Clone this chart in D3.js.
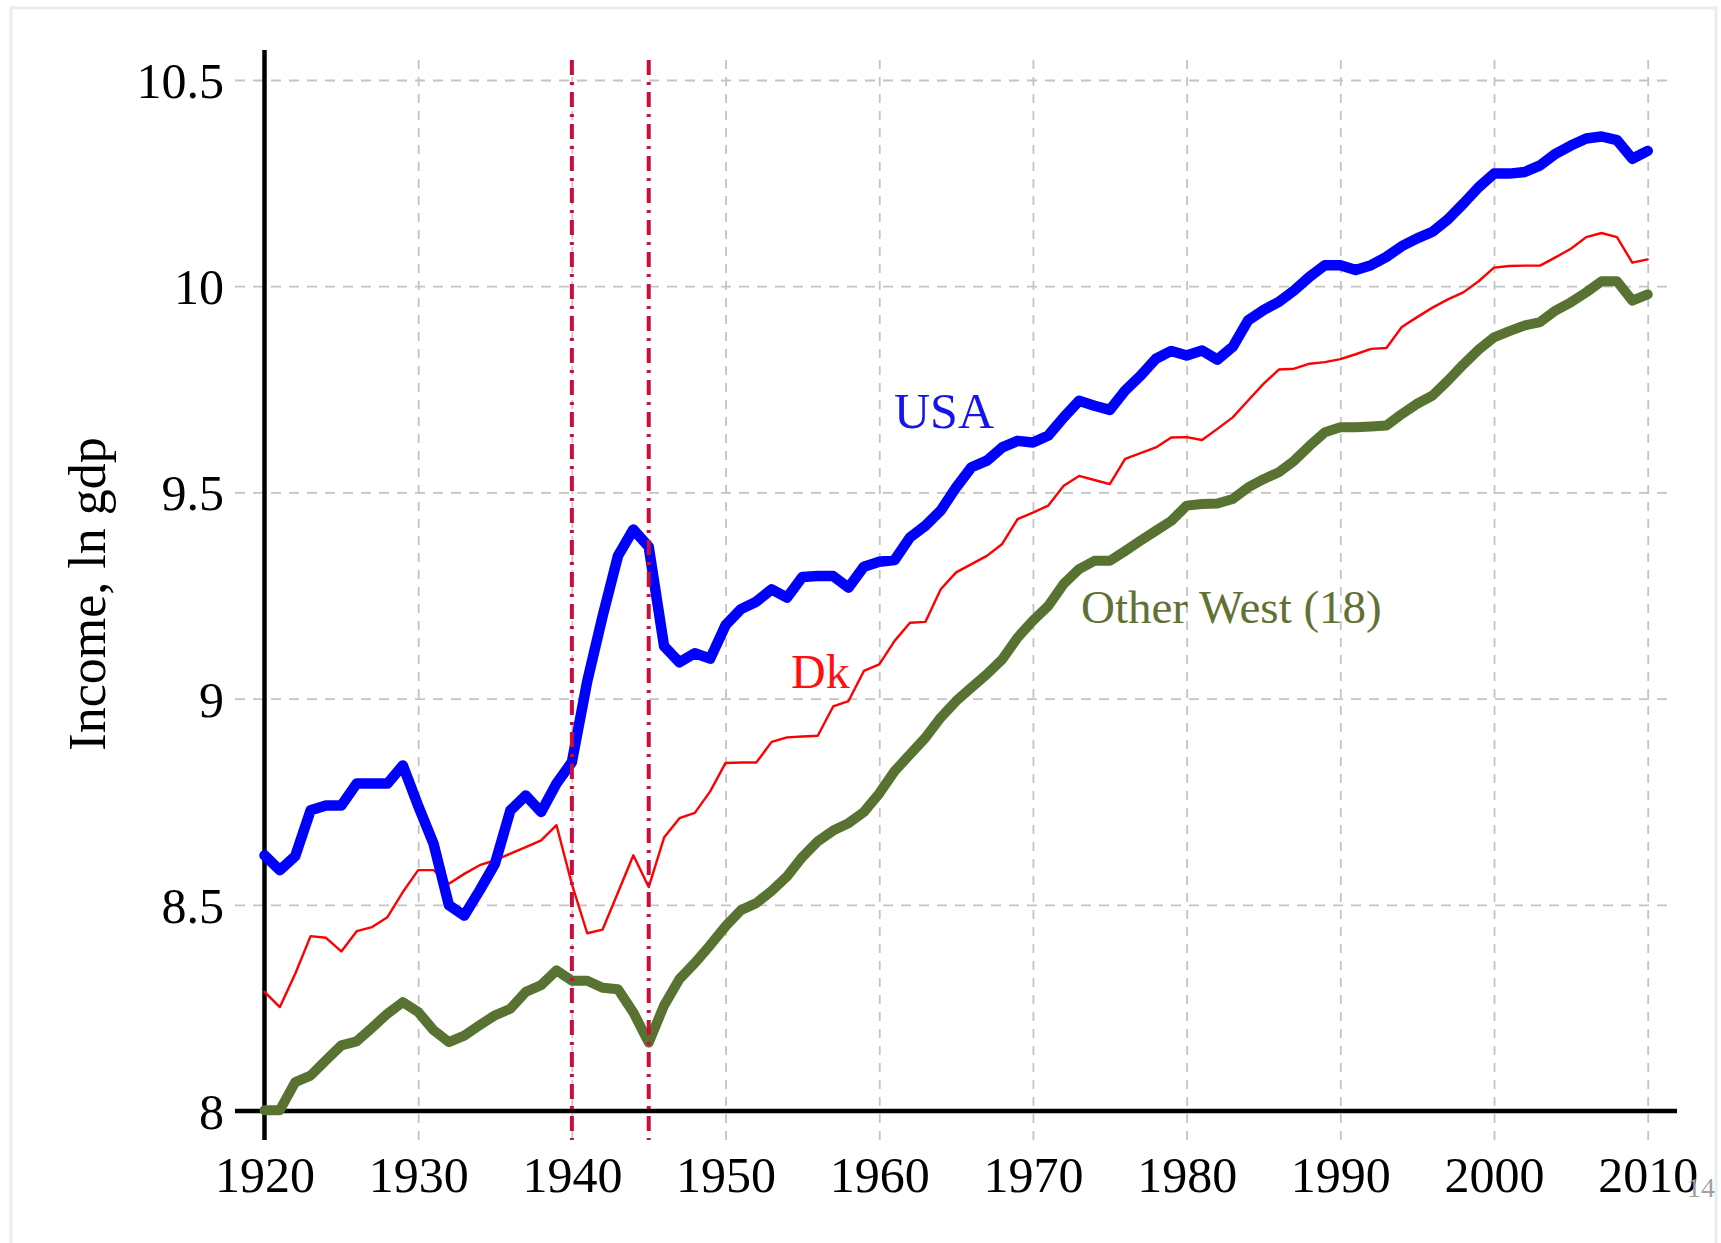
<!DOCTYPE html>
<html>
<head>
	<title>Income, ln gdp</title>
	<meta charset="utf-8">
	<script type="text/javascript" src="https://cdn.jsdelivr.net/npm/d3@7"></script>
	<style type="text/css">
	     body{
	     	margin:0;
	     	background:#ffffff;
	     }
	     svg text{
	     	font-family:"Liberation Serif","Times New Roman",serif;
	     }
	</style>
</head>
<body>
<svg id="chart" width="1721" height="1243"></svg>
<script type="text/javascript">
    // years on the x axis
    var years = d3.range(1920, 2011);
    var xTicks = [1920,1930,1940,1950,1960,1970,1980,1990,2000,2010];
    var yTicks = [8,8.5,9,9.5,10,10.5];
    var warYears = [1940,1945];

    // ln gdp
    var usa = [8.62,8.584,8.618,8.729,8.741,8.741,8.794,8.794,8.794,8.838,
               8.74,8.648,8.499,8.474,8.535,8.60,8.729,8.765,8.725,8.794,
               8.846,9.042,9.20,9.346,9.41,9.368,9.127,9.088,9.11,9.097,
               9.178,9.217,9.235,9.265,9.245,9.295,9.297,9.297,9.269,9.32,
               9.332,9.336,9.391,9.419,9.456,9.512,9.561,9.577,9.609,9.625,
               9.621,9.638,9.682,9.722,9.71,9.70,9.747,9.783,9.824,9.843,
               9.832,9.844,9.822,9.853,9.917,9.942,9.962,9.99,10.023,10.051,
               10.051,10.039,10.051,10.071,10.097,10.116,10.132,10.162,10.2,10.24,
               10.273,10.273,10.277,10.293,10.321,10.341,10.358,10.363,10.354,10.309,
               10.328];
    var dk = [8.289,8.252,8.333,8.424,8.42,8.387,8.436,8.446,8.47,8.531,
              8.584,8.584,8.551,8.575,8.596,8.608,8.624,8.64,8.656,8.693,
              8.55,8.431,8.44,8.53,8.62,8.543,8.663,8.71,8.723,8.775,
              8.844,8.845,8.845,8.895,8.906,8.908,8.91,8.981,8.994,9.067,
              9.083,9.14,9.184,9.186,9.265,9.306,9.326,9.346,9.375,9.435,
              9.451,9.468,9.516,9.54,9.53,9.52,9.581,9.595,9.609,9.633,
              9.634,9.627,9.654,9.682,9.723,9.763,9.798,9.80,9.812,9.816,
              9.823,9.835,9.848,9.85,9.901,9.925,9.948,9.968,9.985,10.012,
              10.045,10.049,10.05,10.05,10.07,10.091,10.119,10.129,10.119,10.057,
              10.065];
    var otherWest = [8.002,8.002,8.07,8.086,8.123,8.159,8.169,8.202,8.236,8.264,
                     8.24,8.196,8.167,8.183,8.208,8.232,8.248,8.289,8.305,8.341,
                     8.316,8.316,8.299,8.295,8.239,8.166,8.256,8.32,8.359,8.402,
                     8.448,8.487,8.504,8.534,8.569,8.616,8.654,8.68,8.698,8.725,
                     8.77,8.824,8.865,8.905,8.954,8.994,9.027,9.059,9.095,9.148,
                     9.189,9.225,9.278,9.314,9.334,9.334,9.358,9.383,9.407,9.431,
                     9.468,9.472,9.473,9.484,9.512,9.532,9.549,9.577,9.613,9.646,
                     9.658,9.658,9.66,9.662,9.69,9.715,9.735,9.771,9.81,9.846,
                     9.876,9.891,9.905,9.913,9.941,9.961,9.985,10.012,10.012,9.965,
                     9.98];

    var svg = d3.select("#chart");

    // light frame of the slide
    svg.append("rect")
       .attr("x",11).attr("y",8)
       .attr("width",1705).attr("height",1260)
       .attr("fill","#ffffff")
       .attr("stroke","#e6eeee")
       .attr("stroke-width",3);

    var x = d3.scaleLinear().domain([1920,2010]).range([264.5,1647.7]);
    var y = d3.scaleLinear().domain([8,10.5]).range([1111,80]);

    var gridLeft = 235, gridRight = 1673, gridTop = 53, gridBottom = 1140;

    // horizontal grid + y labels
    var yAxis = svg.append("g")
       .attr("transform","translate(" + gridLeft + ",0)")
       .call(d3.axisLeft(y)
            .tickValues(yTicks)
            .tickSize(-(gridRight-gridLeft))
            .tickPadding(11)
            .tickFormat(function(d){ return String(d); }));
    yAxis.select(".domain").remove();
    yAxis.selectAll("line")
       .attr("stroke","#c4c4c4")
       .attr("stroke-width",1.8)
       .attr("stroke-dasharray","10,8");
    yAxis.selectAll("text")
       .attr("font-size",50)
       .attr("fill","#000")
       .attr("dy","0.35em");

    // vertical grid + x labels
    var xAxis = svg.append("g")
       .attr("transform","translate(0," + gridBottom + ")")
       .call(d3.axisBottom(x)
            .tickValues(xTicks)
            .tickSize(-(gridBottom-gridTop))
            .tickFormat(function(d){ return String(d); }));
    xAxis.select(".domain").remove();
    xAxis.selectAll("line")
       .attr("stroke","#c4c4c4")
       .attr("stroke-width",1.8)
       .attr("stroke-dasharray","9,8");
    xAxis.selectAll("text")
       .attr("font-size",50)
       .attr("fill","#000")
       .attr("y",52)
       .attr("dy",0);

    // black axis lines
    svg.append("line")
       .attr("x1",x(1920)).attr("x2",x(1920))
       .attr("y1",50).attr("y2",gridBottom)
       .attr("stroke","#000").attr("stroke-width",4.5);
    svg.append("line")
       .attr("x1",gridLeft).attr("x2",1677)
       .attr("y1",y(8)).attr("y2",y(8))
       .attr("stroke","#000").attr("stroke-width",4.5);

    // y title
    svg.append("text")
       .attr("transform","translate(105,594) rotate(-90)")
       .attr("text-anchor","middle")
       .attr("font-size",52)
       .attr("fill","#000")
       .text("Income, ln gdp");

    var line = d3.line()
       .x(function(d,i){ return x(years[i]); })
       .y(function(d){ return y(d); });

    var series = [
       {name:"Dk", values:dk, color:"#ff0000", width:2.4},
       {name:"Other West", values:otherWest, color:"#587232", width:10},
       {name:"USA", values:usa, color:"#0000ff", width:10.5}
    ];
    svg.selectAll(".series")
       .data(series)
       .enter()
       .append("path")
       .attr("class","series")
       .attr("d",function(d){ return line(d.values); })
       .attr("fill","none")
       .attr("stroke",function(d){ return d.color; })
       .attr("stroke-width",function(d){ return d.width; })
       .attr("stroke-linejoin","round")
       .attr("stroke-linecap","round");

    // war lines 1940 / 1945
    svg.selectAll(".war")
       .data(warYears)
       .enter()
       .append("line")
       .attr("class","war")
       .attr("x1",function(d){ return x(d); })
       .attr("x2",function(d){ return x(d); })
       .attr("y1",60).attr("y2",gridBottom)
       .attr("stroke","#c4103c")
       .attr("stroke-width",4)
       .attr("stroke-dasharray","15,7,3,7");

    // series labels
    svg.append("text")
       .attr("x",894).attr("y",428)
       .attr("font-size",50)
       .attr("fill","#1414f0")
       .text("USA");
    svg.append("text")
       .attr("x",791).attr("y",688)
       .attr("font-size",48)
       .attr("fill","#ff1010")
       .text("Dk");
    svg.append("text")
       .attr("x",1081).attr("y",623)
       .attr("font-size",47)
       .attr("fill","#627133")
       .text("Other West (18)");

    // slide number
    svg.append("text")
       .attr("x",1687).attr("y",1197)
       .attr("font-size",28)
       .attr("fill","#a0a0a0")
       .text("14");
</script>
</body>
</html>
